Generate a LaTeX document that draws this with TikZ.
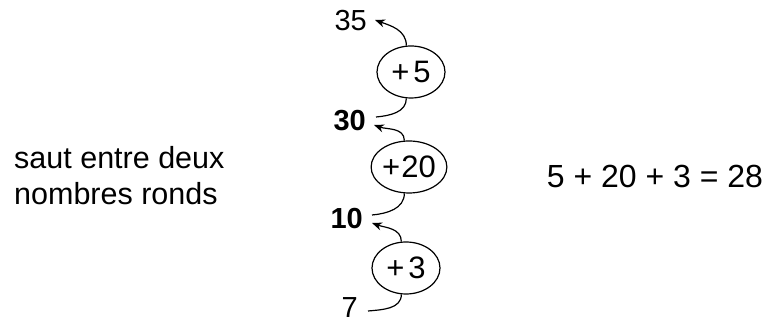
\documentclass[tikz,border=0pt]{standalone}
\usepackage{fontspec}
\setmainfont{Liberation Sans}
\usetikzlibrary{shapes.geometric,arrows.meta}
\begin{document}
\begin{tikzpicture}[x=1pt,y=1pt,
  jump/.style={ellipse,draw,line width=1.2pt,minimum width=68pt,minimum height=52pt,inner sep=0pt,font=\fontsize{31}{32}\selectfont},
  num/.style={inner sep=0pt,font=\fontsize{29}{30}\selectfont},
  bnum/.style={inner sep=0pt,font=\fontsize{29}{30}\selectfont\bfseries},
  hop/.style={line width=1.2pt,-{Stealth[length=10pt,width=8pt]}},
  tail/.style={line width=1.2pt}]
\useasboundingbox (0,0) rectangle (771,323);
\fill[white] (0,0) rectangle (771,323);

\node[num,anchor=east] (n35) at (367,302) {35};
\node[jump] (e5) at (411,251) {+\hspace{4pt}5};
\node[bnum,anchor=east] (n30) at (366,202) {30};
\node[jump] (e20) at (409,156) {+\hspace{1pt}20};
\node[bnum,anchor=east] (n10) at (363,104) {10};
\node[jump] (e3) at (406,55) {+\hspace{4pt}3};
\node[num,anchor=east] (n7) at (358,15) {7};

\node[align=left,anchor=west,inner sep=0pt,font=\fontsize{30.5}{36}\selectfont] (lbl) at (14,147) {saut entre deux\\nombres ronds};
\node[inner sep=0pt,font=\fontsize{32}{32}\selectfont] (eq) at (655,147) {5 + 20 + 3 = 28};

% 7 -> +3 -> 10
\draw[tail] ([xshift=10pt,yshift=-3pt]n7.east) to[out=5,in=-90] (e3.-100);
\draw[hop] (e3.100) to[out=90,in=-20] ([xshift=9pt,yshift=-4pt]n10.east);
% 10 -> +20 -> 30
\draw[tail] ([xshift=9pt,yshift=4pt]n10.east) to[out=5,in=-90] (e20.-100);
\draw[hop] (e20.100) to[out=90,in=-20] ([xshift=8pt,yshift=-4pt]n30.east);
% 30 -> +5 -> 35
\draw[tail] ([xshift=10pt,yshift=4pt]n30.east) to[out=5,in=-90] (e5.-100);
\draw[hop] (e5.100) to[out=90,in=-20] ([xshift=8pt,yshift=1pt]n35.east);
\end{tikzpicture}
\end{document}
